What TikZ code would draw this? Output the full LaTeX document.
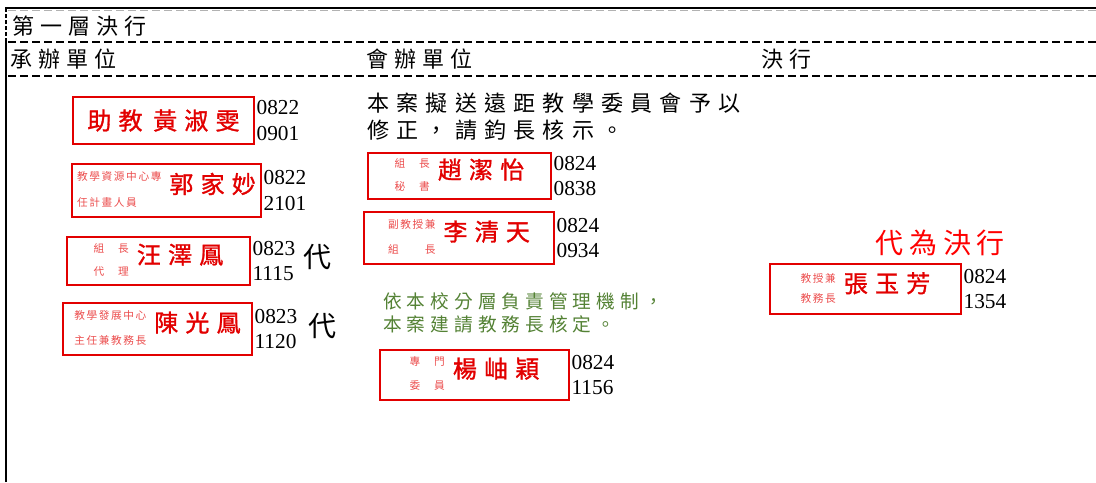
\documentclass[tikz,border=0pt]{standalone}
\usepackage{fontspec}
\setmainfont{Liberation Serif}
\newfontfamily\cjk{Noto Sans CJK TC}
\usetikzlibrary{positioning}

\definecolor{sealred}{RGB}{226,0,0}
\definecolor{notegreen}{RGB}{84,130,53}
\definecolor{proxyred}{RGB}{255,0,0}

\def\cjkfont#1#2#3{\cjk\addfontfeature{LetterSpace=#3}\fontsize{#1}{#2}\selectfont}

\begin{document}
\begin{tikzpicture}[x=0.75pt,y=-0.75pt,
	seal/.style={draw=sealred,line width=1.5pt,text=sealred,inner sep=0pt,
		font=\cjkfont{18}{18}{30}\addfontfeature{FakeBold=1.2}},
	stamptime/.style={font=\fontsize{16}{19}\selectfont,align=left,inner sep=1pt},
	header/.style={font=\cjkfont{16.5}{20}{28},inner sep=0pt,anchor=west},
	rowline/.style={line width=1.1pt,dash pattern=on 6pt off 3pt}]

\def\rank#1#2#3{{\cjkfont{8}{8}{15}\color{sealred!70}%
	\begin{tabular}[c]{@{}l@{}}#1\\[#3]#2\end{tabular}}\hspace{6pt}}

\useasboundingbox (0,0) rectangle (1096,482);

% frame
\draw[line width=2pt] (6,482) -- (6,42);
\draw[line width=2pt,dash pattern=on 3pt off 1.5pt] (6,42) -- (6,8);
\draw[line width=2pt] (5,8) -- (1096,8);
\draw[gray!60,line width=0.75pt,dash pattern=on 6pt off 3pt] (8,10.5) -- (1096,10.5);
\draw[rowline] (8,42) -- (1096,42);
\draw[rowline] (8,76) -- (1096,76);

\node[header] (level) at (12,26) {第一層決行};
\node[header] (col1) at (10,59) {承辦單位};
\node[header] (col2) at (366,59) {會辦單位};
\node[header] (col3) at (761,59) {決行};

% 承辦單位
\node[seal,minimum width=135.75pt,minimum height=35.25pt] (s1) at (163.5,120.5)
	{助教\hspace{8pt}黃淑雯};
\node[stamptime,right=0pt of s1] (t1) {0822\\0901};

\node[seal,minimum width=141.75pt,minimum height=39.75pt] (s2) at (166.5,190.5)
	{\rank{教學資源中心專}{任計畫人員}{10pt}郭家妙};
\node[stamptime,right=0pt of s2] (t2) {0822\\2101};

\node[seal,minimum width=137.25pt,minimum height=36pt] (s3) at (158.5,261)
	{\rank{組　長}{代　理}{8pt}汪澤鳳};
\node[stamptime,right=0pt of s3] (t3) {0823\\1115};
\node[font=\cjkfont{21}{21}{0},inner sep=0pt,right=5pt of t3,yshift=3pt] (d3) {代};

\node[seal,minimum width=141.75pt,minimum height=39pt] (s4) at (157.5,329)
	{\rank{教學發展中心}{主任兼教務長}{10pt}陳光鳳};
\node[stamptime,right=0pt of s4] (t4) {0823\\1120};
\node[font=\cjkfont{21}{21}{0},inner sep=0pt,right=7pt of t4,yshift=2pt] (d4) {代};

% 會辦單位
\node[header,anchor=north west,align=left,font=\cjkfont{16.5}{20.25}{33}] (memo) at (367,93)
	{本案擬送遠距教學委員會予以\\修正，請鈞長核示。};

\node[seal,minimum width=137.25pt,minimum height=34.5pt] (s5) at (459.5,176)
	{\rank{組　長}{秘　書}{8pt}趙潔怡};
\node[stamptime,right=0pt of s5] (t5) {0824\\0838};

\node[seal,minimum width=142.5pt,minimum height=39pt] (s6) at (459,238)
	{\rank{副教授兼}{組　　長}{10pt}李清天};
\node[stamptime,right=0pt of s6] (t6) {0824\\0934};

\node[font=\cjkfont{14}{17.25}{27},text=notegreen,anchor=north west,align=left,inner sep=0pt]
	(note) at (383,292) {依本校分層負責管理機制，\\本案建請教務長核定。};

\node[seal,minimum width=141.75pt,minimum height=37.5pt] (s7) at (474.5,375)
	{\rank{專　門}{委　員}{9pt}楊岫穎};
\node[stamptime,right=0pt of s7] (t7) {0824\\1156};

% 決行
\node[font=\cjkfont{21}{21}{21},text=proxyred,anchor=west,inner sep=0pt] (proxy) at (875,243)
	{代為決行};

\node[seal,minimum width=143.25pt,minimum height=37.5pt] (s8) at (865.5,289)
	{\rank{教授兼}{教務長}{6pt}張玉芳};
\node[stamptime,right=0pt of s8] (t8) {0824\\1354};

\end{tikzpicture}
\end{document}
